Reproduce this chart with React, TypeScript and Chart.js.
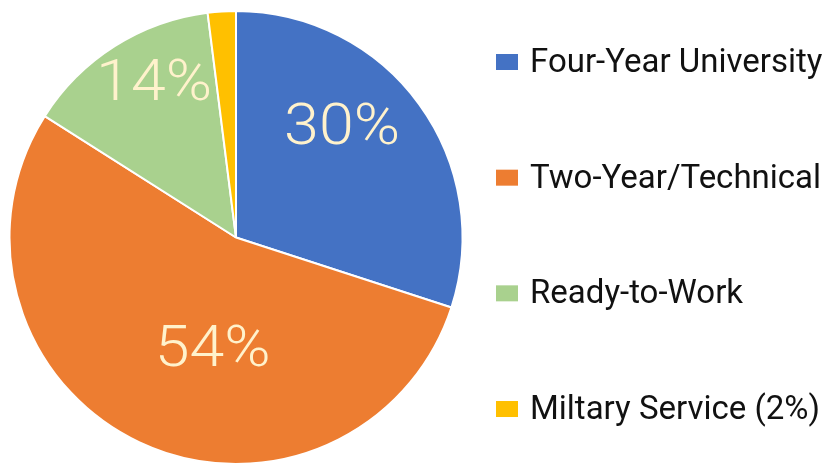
import React, { useEffect, useRef } from "react";
import { Chart, registerables } from "chart.js";

Chart.register(...registerables);

const categories = ["Four-Year University", "Two-Year/Technical", "Ready-to-Work", "Miltary Service (2%)"];
const values = [30, 54, 14, 2];
const sliceLabels = ["30%", "54%", "14%", ""];
const colors = ["#4472C4", "#ED7D31", "#A9D18E", "#FFC000"];
// label placement inside each slice: fraction along the arc, fraction of radius
const labelArcFraction = [0.406, 0.431, 0.59, 0.5];
const labelRadiusFraction = [0.676, 0.504, 0.774, 0.8];

const FONT = "Roboto, 'Noto Sans', sans-serif";

const overlayPlugin = {
  id: "overlay",
  afterDatasetsDraw(chart: any) {
    const ctx = chart.ctx;
    const meta = chart.getDatasetMeta(0);
    ctx.save();
    ctx.fillStyle = "#FFF2CC";
    ctx.font = `300 57px ${FONT}`;
    ctx.textAlign = "center";
    ctx.textBaseline = "middle";
    meta.data.forEach((arc: any, i: number) => {
      const t = sliceLabels[i];
      if (!t) return;
      const { x, y, startAngle, endAngle, outerRadius } = arc.getProps(["x", "y", "startAngle", "endAngle", "outerRadius"]);
      const a = startAngle + (endAngle - startAngle) * labelArcFraction[i];
      const r = outerRadius * labelRadiusFraction[i];
      ctx.save();
      ctx.translate(x + Math.cos(a) * r, y + Math.sin(a) * r + 3);
      ctx.scale(1.1, 1);
      ctx.fillText(t, 0, 0);
      ctx.restore();
    });
    ctx.restore();
  },
  afterDraw(chart: any) {
    const ctx = chart.ctx;
    ctx.save();
    const legendX = 496;
    const firstBaseline = 72;
    const step = 115.67;
    ctx.font = `400 33px ${FONT}`;
    ctx.textBaseline = "alphabetic";
    ctx.textAlign = "left";
    chart.data.labels.forEach((lab: string, i: number) => {
      const b = firstBaseline + step * i;
      ctx.fillStyle = chart.data.datasets[0].backgroundColor[i];
      ctx.fillRect(legendX, b - 18, 22, 16);
      ctx.fillStyle = "#111111";
      ctx.fillText(lab, legendX + 34, b);
    });
    ctx.restore();
  },
};

export default function App() {
  const ref = useRef<HTMLCanvasElement>(null);
  useEffect(() => {
    const chart = new Chart(ref.current!, {
      type: "pie",
      data: {
        labels: categories,
        datasets: [
          {
            data: values,
            backgroundColor: colors,
            borderColor: "#ffffff",
            borderWidth: 2,
          },
        ],
      },
      options: {
        animation: false,
        responsive: false,
        layout: { padding: { left: 8, top: 10, right: 366, bottom: -1 } },
        plugins: { legend: { display: false }, tooltip: { enabled: false } },
      },
      plugins: [overlayPlugin],
    });
    return () => chart.destroy();
  }, []);
  return (
    <div style={{ position: "fixed", left: 0, top: 0, width: 830, height: 465, background: "#fff", overflow: "hidden" }}>
      <canvas ref={ref} width={830} height={465} style={{ display: "block" }} />
    </div>
  );
}
